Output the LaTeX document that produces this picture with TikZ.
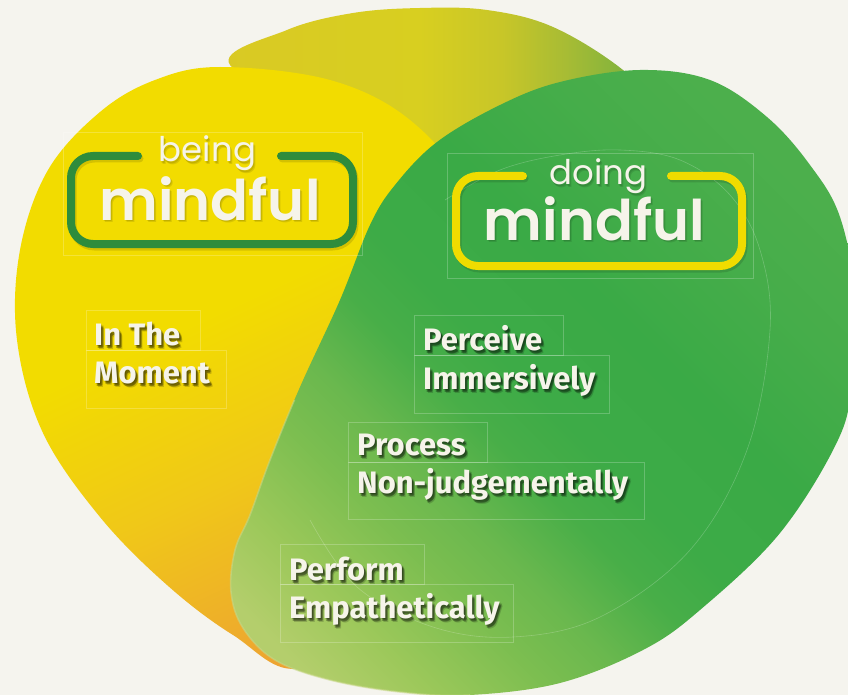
\documentclass[tikz,border=0pt]{standalone}
\usepackage{fontspec}
\usetikzlibrary{calc}
\newfontfamily\popfont{Poppins}[BoldFont={* SemiBold}]
\newfontfamily\firafont{Fira Sans}
\definecolor{bg}{HTML}{F5F4EE}
\definecolor{txt}{HTML}{F6F4EA}
\definecolor{yyel}{HTML}{F2DC00}
\definecolor{ymid}{HTML}{F0C818}
\definecolor{yor}{HTML}{EDA332}
\definecolor{b1}{HTML}{D9C924}
\definecolor{b2}{HTML}{D8CF20}
\definecolor{b3}{HTML}{C8C628}
\definecolor{b4}{HTML}{A8BC34}
\definecolor{b5}{HTML}{74B040}
\definecolor{g0}{HTML}{B4CE6C}
\definecolor{g1}{HTML}{9CC85A}
\definecolor{g2}{HTML}{7CBE50}
\definecolor{g3}{HTML}{6AB84E}
\definecolor{g4}{HTML}{48AE48}
\definecolor{g5}{HTML}{3DAB47}
\definecolor{g6}{HTML}{3AAA46}
\definecolor{g7}{HTML}{46AD4A}
\definecolor{g8}{HTML}{4CAF4C}
\definecolor{paleedge}{HTML}{C8D888}
\definecolor{boxgreen}{HTML}{2E8C3C}
\definecolor{boxyellow}{HTML}{F0DC00}
\pgfdeclareverticalshading{yshade}{100bp}{color(0bp)=(yor); color(25bp)=(yor); color(42bp)=(ymid); color(56bp)=(yyel); color(100bp)=(yyel)}
\pgfdeclarehorizontalshading{bshade}{100bp}{color(0bp)=(b1); color(25bp)=(b1); color(47bp)=(b2); color(56bp)=(b3); color(63bp)=(b4); color(72bp)=(b5); color(100bp)=(b5)}
\pgfdeclarehorizontalshading{gshade}{100bp}{color(0bp)=(g0); color(20bp)=(g0); color(26bp)=(g1); color(33bp)=(g2); color(38bp)=(g3); color(44bp)=(g4); color(49bp)=(g5); color(58bp)=(g6); color(68bp)=(g7); color(76bp)=(g8); color(100bp)=(g8)}
\tikzset{
  lbltext/.style={anchor=base west, inner sep=0pt, text=txt, font=\firafont\bfseries\fontsize{31}{31}\selectfont},
  ttlsmall/.style={anchor=base, inner sep=0pt, text=txt, font=\popfont\fontsize{34}{34}\selectfont},
  ttlbig/.style={anchor=base, inner sep=0pt, text=txt, font=\popfont\bfseries\fontsize{56}{56}\selectfont},
  guide/.style={draw=white, opacity=0.22, line width=0.6pt},
  boxline/.style={line width=8pt, line cap=round, rounded corners=22pt},
}
\newcommand{\shlbl}[3]{%
  \foreach \dx/\dy/\kk in {1/1.5/a,2/3/b,3/4.5/c,1.5/3.5/d,2.5/2/e}{%
    \node[lbltext, text=black, opacity=0.17] (#1-\kk) at ($(#2)+(\dx,\dy)$) {#3};}%
  \node[lbltext] (#1) at (#2) {#3};}
\newcommand{\shttl}[4]{%
  \foreach \dx/\dy/\kk in {1/1.5/a,2/2.5/b}{%
    \node[#4, text=black, opacity=0.10] (#1-\kk) at ($(#2)+(\dx,\dy)$) {#3};}%
  \node[#4] (#1) at (#2) {#3};}
\begin{document}
\begin{tikzpicture}[x=1pt,y=-1pt]
\useasboundingbox (0,0) rectangle (848,695);
\clip (0,0) rectangle (848,695);
\fill[bg] (0,0) rectangle (848,695);
% back shape
\path[shading=bshade] plot[smooth cycle, tension=0.6] coordinates {(230,65) (287,30) (353,13) (420,8) (487,10) (553,27) (623,70) (670,120) (600,200) (450,180) (350,120)};
% yellow shape
\path[shading=yshade, shading angle=25] plot[smooth cycle, tension=0.6] coordinates {(220,67) (330,80) (410,120) (465,190) (485,300) (460,450) (390,600) (300,668) (233,635) (167,585) (100,517) (43,433) (17,340) (20,250) (48,170) (100,112) (155,80)};
% green teardrop
\path[shading=gshade, shading angle=45] plot[smooth cycle, tension=0.6] coordinates {(640,70) (710,80) (767,117) (810,165) (840,217) (856,300) (852,380) (838,440) (780,533) (700,610) (643,650) (560,683) (470,695) (400,692) (330,680) (275,660) (243,628) (231,592) (235,550) (250,515) (270,460) (300,387) (340,300) (370,225) (395,185) (437,142) (500,105) (560,82)};
\begin{scope}
  \clip (0,400) rectangle (470,695);
  \draw[draw=paleedge, line width=1.6pt, opacity=0.55] plot[smooth cycle, tension=0.6] coordinates {(640,70) (710,80) (767,117) (810,165) (840,217) (856,300) (852,380) (838,440) (780,533) (700,610) (643,650) (560,683) (470,695) (400,692) (330,680) (275,660) (243,628) (231,592) (235,550) (250,515) (270,460) (300,387) (340,300) (370,225) (395,185) (437,142) (500,105) (560,82)};
\end{scope}
% faint guide curve
\draw[guide] plot[smooth, tension=0.6] coordinates {(445,200) (500,170) (560,155) (620,150) (680,160) (730,195) (760,250) (770,330) (747,450) (690,550) (600,617) (513,637) (433,627) (357,587) (310,520)};
% text guide boxes
\draw[guide] (63,132) rectangle (362,255);
\draw[guide] (447,153) rectangle (753,278);
\draw[guide] (86,310) rectangle (200,350);
\draw[guide] (86,350) rectangle (226,408);
\draw[guide] (414,315) rectangle (563,355);
\draw[guide] (414,355) rectangle (609,413);
\draw[guide] (348,422) rectangle (487,462);
\draw[guide] (348,462) rectangle (644,519);
\draw[guide] (280,544) rectangle (424,584);
\draw[guide] (280,584) rectangle (513,642);
% title boxes
\draw[boxline, draw=black, opacity=0.12] (139.5,158.5) -- (72.5,158.5) -- (72.5,246.5) -- (354.5,246.5) -- (354.5,158.5) -- (282.5,158.5);
\draw[boxline, draw=boxgreen] (138,156) -- (71,156) -- (71,244) -- (353,244) -- (353,156) -- (281,156);
\draw[boxline, draw=black, opacity=0.12] (524.5,178.5) -- (457.5,178.5) -- (457.5,268.5) -- (743.5,268.5) -- (743.5,178.5) -- (672.5,178.5);
\draw[boxline, draw=boxyellow] (523,176) -- (456,176) -- (456,266) -- (742,266) -- (742,176) -- (671,176);
% titles
\shttl{being}{207.5,162}{being}{ttlsmall}
\shttl{beingmindful}{210,220}{mindful}{ttlbig}
\shttl{doing}{598.5,185}{doing}{ttlsmall}
\shttl{doingmindful}{594.5,240}{mindful}{ttlbig}
% labels
\shlbl{inthe}{94,345}{In The}
\shlbl{moment}{94,383}{Moment}
\shlbl{perceive}{423,350}{Perceive}
\shlbl{immersively}{423,389}{Immersively}
\shlbl{process}{357,455}{Process}
\shlbl{nonjudg}{357,493}{Non-judgementally}
\shlbl{perform}{289,580}{Perform}
\shlbl{empath}{289,618}{Empathetically}
\end{tikzpicture}
\end{document}
